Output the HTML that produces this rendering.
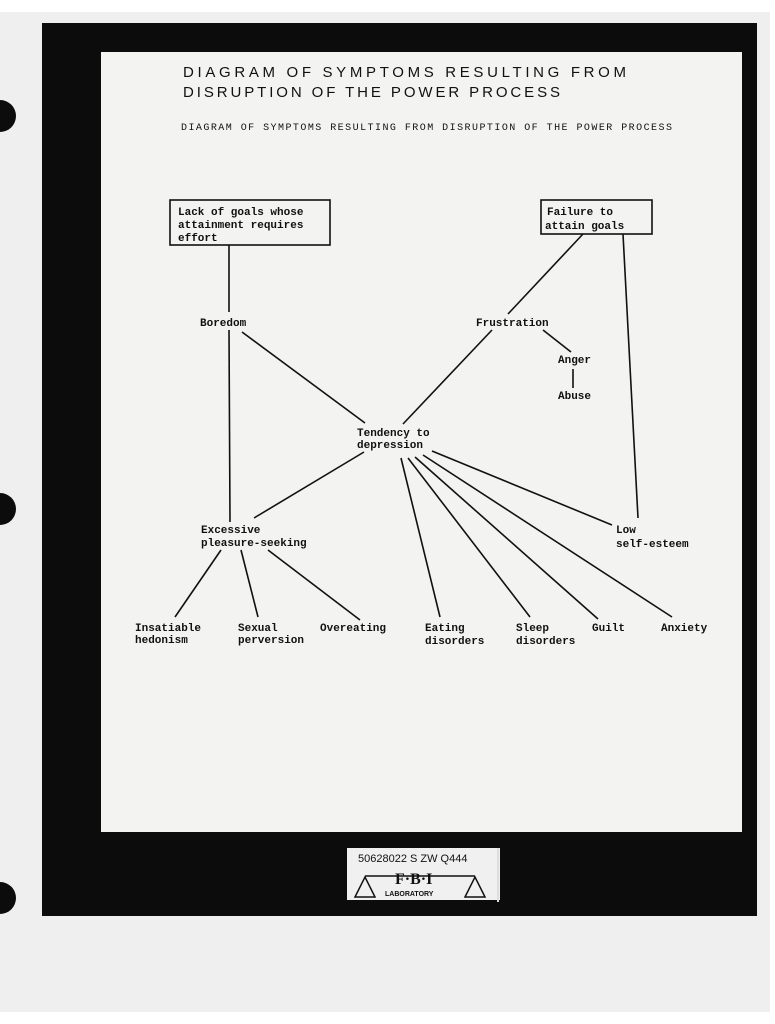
<!DOCTYPE html>
<html><head><meta charset="utf-8"><style>
html,body{margin:0;padding:0;background:#fff;}
svg{display:block}
.t{font-family:"Liberation Mono",monospace;font-weight:bold;font-size:11px;fill:#111}
.h{font-family:"Liberation Sans",sans-serif;font-size:15px;fill:#111}
</style></head><body>
<svg width="775" height="1024" viewBox="0 0 775 1024" xmlns="http://www.w3.org/2000/svg">
<rect x="0" y="0" width="775" height="1024" fill="#fff"/>
<rect x="0" y="12" width="770" height="1000" fill="#efefef"/>
<rect x="42" y="23" width="715" height="893" fill="#0c0c0c"/>
<rect x="101" y="52" width="641" height="780" fill="#f3f3f1"/>
<path d="M0 100 a16 16 0 0 1 0 32z M0 493 a16 16 0 0 1 0 32z M0 882 a16 16 0 0 1 0 32z" fill="#0c0c0c"/>
<text class="h" x="183" y="77" textLength="443" lengthAdjust="spacing">DIAGRAM  OF  SYMPTOMS  RESULTING  FROM</text>
<text class="h" x="183" y="97" textLength="377" lengthAdjust="spacing">DISRUPTION  OF  THE  POWER  PROCESS</text>
<text class="t" x="181" y="130" style="font-size:10px;font-weight:normal" textLength="491">DIAGRAM OF SYMPTOMS RESULTING FROM DISRUPTION OF THE POWER PROCESS</text>
<g stroke="#111" stroke-width="1.6" fill="none">
<rect x="170" y="200" width="160" height="45"/>
<rect x="541" y="200" width="111" height="34"/>
<line x1="229" y1="245" x2="229" y2="312"/>
<line x1="229" y1="330" x2="230" y2="522"/>
<line x1="242" y1="332" x2="365" y2="423"/>
<line x1="583" y1="234" x2="508" y2="314"/>
<line x1="623" y1="234" x2="638" y2="518"/>
<line x1="492" y1="330" x2="403" y2="424"/>
<line x1="543" y1="330" x2="571" y2="352"/>
<line x1="573" y1="369" x2="573" y2="388"/>
<line x1="364" y1="452" x2="254" y2="518"/>
<line x1="401" y1="458" x2="440" y2="617"/>
<line x1="408" y1="458" x2="530" y2="617"/>
<line x1="415" y1="457" x2="598" y2="619"/>
<line x1="423" y1="455" x2="672" y2="617"/>
<line x1="432" y1="451" x2="612" y2="525"/>
<line x1="221" y1="550" x2="175" y2="617"/>
<line x1="241" y1="550" x2="258" y2="617"/>
<line x1="268" y1="550" x2="360" y2="620"/>
</g>
<text class="t" x="178" y="215">Lack of goals whose</text>
<text class="t" x="178" y="228">attainment requires</text>
<text class="t" x="178" y="241">effort</text>
<text class="t" x="547" y="215">Failure to</text>
<text class="t" x="545" y="229">attain goals</text>
<text class="t" x="200" y="326">Boredom</text>
<text class="t" x="476" y="326">Frustration</text>
<text class="t" x="558" y="363">Anger</text>
<text class="t" x="558" y="399">Abuse</text>
<text class="t" x="357" y="436">Tendency to</text>
<text class="t" x="357" y="448">depression</text>
<text class="t" x="201" y="533">Excessive</text>
<text class="t" x="201" y="546">pleasure-seeking</text>
<text class="t" x="616" y="533">Low</text>
<text class="t" x="616" y="547">self-esteem</text>
<text class="t" x="135" y="631">Insatiable</text>
<text class="t" x="135" y="643">hedonism</text>
<text class="t" x="238" y="631">Sexual</text>
<text class="t" x="238" y="643">perversion</text>
<text class="t" x="320" y="631">Overeating</text>
<text class="t" x="425" y="631">Eating</text>
<text class="t" x="425" y="644">disorders</text>
<text class="t" x="516" y="631">Sleep</text>
<text class="t" x="516" y="644">disorders</text>
<text class="t" x="592" y="631">Guilt</text>
<text class="t" x="661" y="631">Anxiety</text>
<rect x="347" y="848" width="153" height="52" fill="#f0f0f0"/>
<line x1="498" y1="848" x2="498" y2="902" stroke="#ddd" stroke-width="2"/>
<text x="358" y="862" style="font-family:'Liberation Sans',sans-serif;font-size:11px;fill:#111">50628022 S ZW Q444</text>
<text x="395" y="884" style="font-family:'Liberation Serif',serif;font-weight:bold;font-size:16px;fill:#111">F·B·I</text>
<text x="385" y="896" style="font-family:'Liberation Sans',sans-serif;font-weight:bold;font-size:7px;fill:#111">LABORATORY</text>
<path d="M365 876 h110 M355 897 l10 -20 l10 20z M465 897 l10 -20 l10 20z" stroke="#111" stroke-width="1.5" fill="none"/>
</svg>
</body></html>
